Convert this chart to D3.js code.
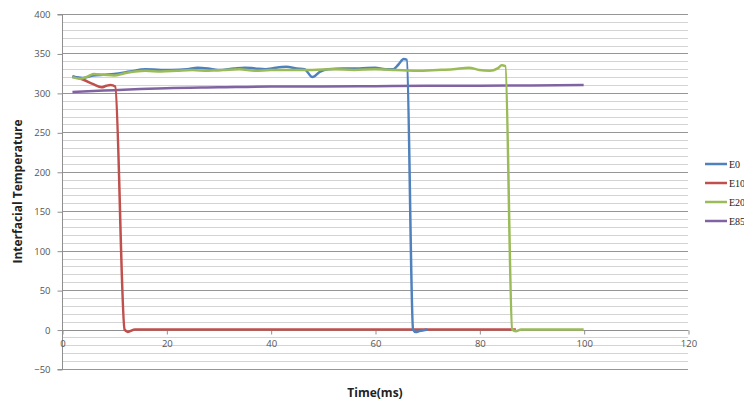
<!DOCTYPE html>
<html>
<head>
<meta charset="utf-8">
<script src="https://cdn.jsdelivr.net/npm/d3@7"></script>
<style>
  html, body { margin: 0; padding: 0; background: #fff; }
  svg { display: block; }
</style>
</head>
<body>
<svg id="chart" width="744" height="408"></svg>
<script>
// ---- Data ----
const seriesNames = ["E0", "E10", "E20", "E85"];
const seriesColors = ["#4F81BD", "#C0504D", "#9BBB59", "#8064A2"];

const e0Time = [2, 4, 6, 8, 10, 13, 16, 19, 21, 24, 26, 28, 30, 33, 35, 37, 39, 41, 43, 45, 46.5, 48, 49.5, 51, 54, 57, 60, 62, 63.5, 64.5, 65.5, 66.1, 67.3, 67.8, 68.5, 70];
const e0Temp = [320, 319, 322, 323, 324, 327, 330, 329, 329, 330, 332, 331, 329, 331, 332, 331, 330, 332, 333, 331, 330, 320, 327, 330, 331, 331, 332, 330, 330, 336, 343, 342, 0, -3, -2, 0];

const e10Time = [2, 4, 6, 7.6, 8.5, 9.3, 10.2, 12, 12.6, 14, 20, 40, 60, 80, 87];
const e10Temp = [321, 317, 311, 307, 309, 310, 308, 0, -3, 0, 0, 0, 0, 0, 0];

const e20Time = [2, 3.5, 5, 6, 8, 10, 12, 14, 16, 19, 22, 25, 28, 31, 34, 37, 40, 44, 48, 52, 56, 60, 64, 68, 72, 75, 78, 80, 82, 83.5, 84.3, 85, 86.3, 87, 88, 90, 95, 100];
const e20Temp = [320, 318, 321, 324, 323, 322, 325, 327, 328, 327, 328, 329, 328, 329, 330, 328, 329, 329, 329, 330, 329, 330, 329, 328, 329, 330, 332, 329, 328, 331, 335, 334, 0, -2, 0, 0, 0, 0];

const e85Time = [2, 5, 10, 15, 20, 30, 40, 50, 60, 70, 80, 90, 100];
const e85Temp = [301, 302, 303.5, 305, 306, 307, 308, 308, 308.5, 309, 309, 309.5, 310];

const xTicks = [0, 20, 40, 60, 80, 100, 120];
const yTicks = [-50, 0, 50, 100, 150, 200, 250, 300, 350, 400];
const xTitle = "Time(ms)";
const yTitle = "Interfacial Temperature";

// ---- Layout ----
const svg = d3.select("#chart");
const pLeft = 62, pRight = 688, pTop = 14, pBottom = 369;

const x = d3.scaleLinear().domain([0, 120]).range([pLeft, pRight]);
const y = d3.scaleLinear().domain([-50, 400]).range([pBottom, pTop]);

// gridlines: minor every 10, major every 50
const minor = d3.range(-50, 401, 10).filter(v => v % 50 !== 0);
svg.append("g").selectAll("line").data(minor).join("line")
  .attr("x1", pLeft).attr("x2", pRight)
  .attr("y1", d => Math.round(y(d)) + 0.5).attr("y2", d => Math.round(y(d)) + 0.5)
  .attr("stroke", "#d4d4d4").attr("stroke-width", 1);
svg.append("g").selectAll("line").data(yTicks).join("line")
  .attr("x1", pLeft).attr("x2", pRight)
  .attr("y1", d => Math.round(y(d)) + 0.5).attr("y2", d => Math.round(y(d)) + 0.5)
  .attr("stroke", "#969696").attr("stroke-width", 1);

// Y axis
const yAxis = d3.axisLeft(y).tickValues(yTicks).tickSize(5).tickPadding(7);
const yg = svg.append("g").attr("transform", `translate(${pLeft + 0.5},0.5)`).call(yAxis);
yg.select(".domain").attr("stroke", "#8f8f8f").attr("d", `M-5,${y(400)}H0V${y(-50)}H-5`);
yg.selectAll(".tick line").attr("stroke", "#8f8f8f");
yg.selectAll(".tick text").attr("fill", "#555").style("font-family", "'Open Sans', 'DejaVu Sans', sans-serif").style("font-size", "9.5px");

// X axis at y = 0
const xAxis = d3.axisBottom(x).tickValues(xTicks).tickSize(4).tickPadding(6);
const xg = svg.append("g").attr("transform", `translate(0.5,${Math.round(y(0)) + 0.5})`).call(xAxis);
xg.select(".domain").attr("stroke", "#8f8f8f").attr("d", `M${pLeft},0H${pRight}`);
xg.selectAll(".tick line").attr("stroke", "#8f8f8f");
xg.selectAll(".tick text").attr("fill", "#555").style("font-family", "'Open Sans', 'DejaVu Sans', sans-serif").style("font-size", "9.5px");

// Lines
const times = [e0Time, e10Time, e20Time, e85Time];
const temps = [e0Temp, e10Temp, e20Temp, e85Temp];
const line = d3.line().x(d => x(d[0])).y(d => y(d[1])).curve(d3.curveMonotoneX);
const order = [3, 1, 0, 2];
order.forEach(i => {
  const pts = times[i].map((t, j) => [t, temps[i][j]]);
  svg.append("path").datum(pts)
    .attr("d", line)
    .attr("fill", "none")
    .attr("stroke", seriesColors[i])
    .attr("stroke-width", 2.5)
    .attr("stroke-linejoin", "round");
});

// Axis titles
svg.append("text")
  .attr("x", 375).attr("y", 397)
  .attr("text-anchor", "middle")
  .style("font-family", "'Open Sans', 'DejaVu Sans', sans-serif")
  .style("font-weight", "bold").style("font-size", "12px").attr("fill", "#222")
  .text(xTitle);
svg.append("text")
  .attr("transform", `translate(22,${y(175)}) rotate(-90)`)
  .attr("text-anchor", "middle")
  .style("font-family", "'Open Sans', 'DejaVu Sans', sans-serif")
  .style("font-weight", "bold").style("font-size", "12px").attr("fill", "#222")
  .text(yTitle);

// Legend
const lg = svg.append("g");
seriesNames.forEach((name, i) => {
  const ly = 164 + i * 19;
  lg.append("line").attr("x1", 705).attr("x2", 727).attr("y1", ly).attr("y2", ly)
    .attr("stroke", seriesColors[i]).attr("stroke-width", 2.5);
  lg.append("text").attr("x", 729).attr("y", ly + 3.5)
    .style("font-family", "'Liberation Serif', 'DejaVu Serif', serif")
    .style("font-size", "10px").attr("fill", "#222")
    .text(name);
});
</script>
</body>
</html>
